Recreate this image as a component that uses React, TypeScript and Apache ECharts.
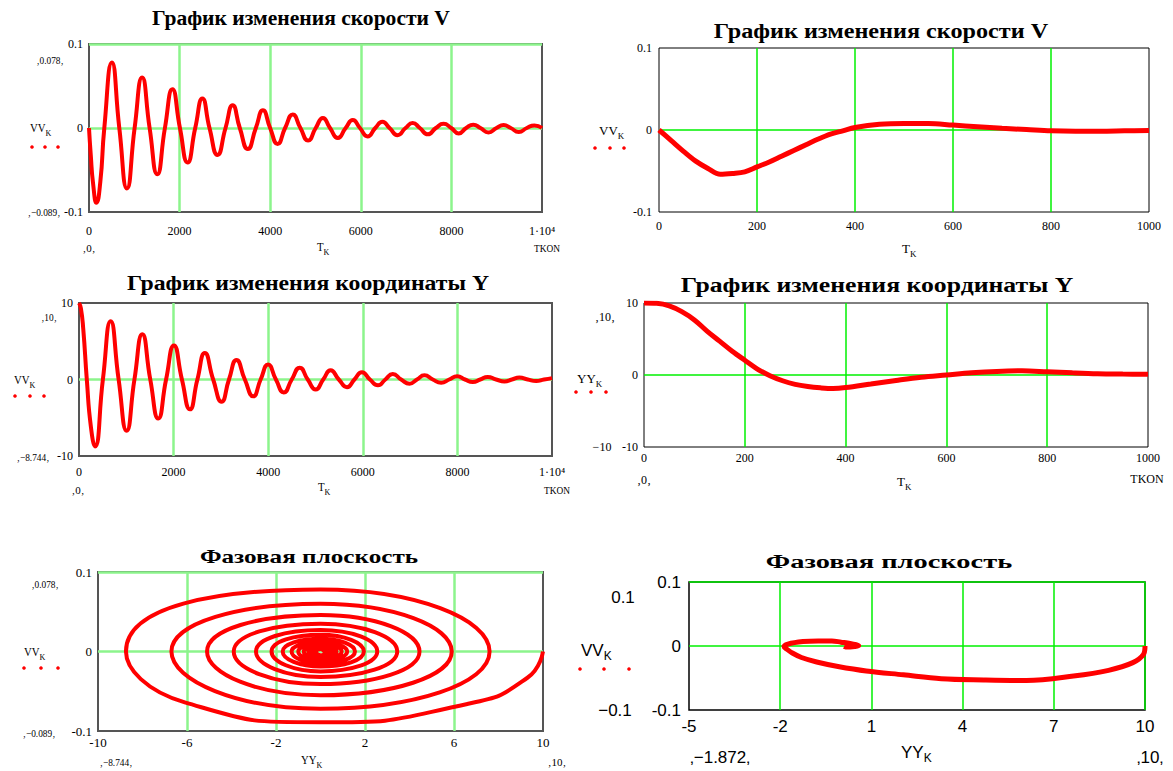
import React, { useEffect, useRef } from "react";
import * as echarts from "echarts";

// ---- Fast oscillating model (left panels): values read near quarter-period points ----
const T_FAST = [0,40,90,165,250,338,505,669,838,1007,1172,1338,1507,1676,1841,2007,2176,2345,2503,2660,2837,3014,3171,3329,3506,3683,3840,3998,4163,4329,4498,4667,4836,5005,5163,5320,5493,5666,5823,5981,6150,6320,6477,6634,6811,6988,7145,7303,7480,7657,7826,7996,8161,8326,8483,8641,8818,8995,9152,9310,9487,9665,9832,10000];
const YY_FAST = [10,9.3,6.6,0,-6.1,-8.744,0,7.6,0,-6.7,0,5.9,0,-5.1,0,4.45,0,-3.9,0,3.45,0,-2.9,0,2.55,0,-2.2,0,1.95,0,-1.7,0,1.55,0,-1.3,0,1.2,0,-1.0,0,0.95,0,-0.75,0,0.72,0,-0.55,0,0.55,0,-0.42,0,0.42,0,-0.33,0,0.32,0,-0.26,0,0.25,0,-0.2,0,0.18];
const VV_FAST = [0,-0.033,-0.066,-0.089,-0.064,0,0.078,0,-0.072,0,0.060,0,-0.055,0,0.046,0,-0.041,0,0.035,0,-0.032,0,0.027,0,-0.025,0,0.021,0,-0.019,0,0.016,0,-0.015,0,0.012,0,-0.012,0,0.0095,0,-0.010,0,0.0075,0,-0.0085,0,0.006,0,-0.0075,0,0.005,0,-0.0065,0,0.004,0,-0.0055,0,0.0035,0,-0.0048,0,0.003,0];

// ---- Slow (heavily damped) model (right panels) ----
const T_SLOW = [0,25,50,75,100,125,150,175,200,225,250,275,300,325,350,375,400,450,500,550,600,650,700,750,800,850,900,950,1000];
const YY_SLOW = [10,9.95,9.6,8.8,7.65,6.1,4.7,3.3,2.05,0.83,-0.1,-0.8,-1.3,-1.6,-1.78,-1.872,-1.75,-1.25,-0.75,-0.3,0.0,0.3,0.5,0.58,0.45,0.3,0.18,0.13,0.1];
const VV_SLOW = [0,-0.013,-0.026,-0.038,-0.047,-0.054,-0.053,-0.051,-0.045,-0.039,-0.032,-0.025,-0.018,-0.011,-0.005,-0.001,0.003,0.007,0.008,0.008,0.006,0.004,0.002,0.0005,-0.001,-0.0015,-0.0015,-0.001,-0.0005];

// ---- Axis ranges / ticks [min, max, interval] ----
const T_FAST_RANGE = [0, 10000, 2000];
const T_SLOW_RANGE = [0, 1000, 200];
const V_RANGE = [-0.1, 0.1, 0.1];
const Y_RANGE = [-10, 10, 10];
const YPH_LEFT_RANGE = [-10, 10, 4];
const YPH_RIGHT_RANGE = [-5, 10, 3];

const TITLE_V = "График изменения скорости V";
const TITLE_Y = "График изменения координаты Y";
const TITLE_PHASE = "Фазовая плоскость";

const SERIF = "Liberation Serif, Times New Roman, serif";
const SANS = "Liberation Sans, Arial, sans-serif";
const RED = "#ff0000";
const GREEN = "#00f000";
const GREEN_L = "#8cf48c";

const fmtX = (v: number) => (v === 10000 ? "1·10⁴" : String(v));
const fmtV = (v: number) => (Math.abs(v) < 1e-9 ? "0" : String(+v.toFixed(3)));

function txt(t: string, x: number, y: number, size: number, o: any = {}) {
  const align = o.align || "center";
  return {
    type: "text", x, y, scaleX: o.sx ?? 1, silent: true,
    style: {
      text: t, fontSize: size, fontFamily: o.family || SERIF, fontWeight: o.weight || "normal",
      fill: o.fill || "#000", align, verticalAlign: "middle", textAlign: align, textVerticalAlign: "middle",
    },
  };
}
function sub(main: string, s: string, x: number, y: number, size: number, family = SERIF, sx = 1) {
  const lh = size + 7;
  return {
    type: "text", x, y, scaleX: sx, silent: true,
    style: {
      text: `{m|${main}}{s|${s}}`, align: "left", verticalAlign: "middle", textAlign: "left", textVerticalAlign: "middle",
      rich: {
        m: { fontSize: size, fontFamily: family, fill: "#000", color: "#000", verticalAlign: "middle", lineHeight: lh },
        s: { fontSize: Math.round(size * 0.72), fontFamily: family, fill: "#000", color: "#000", verticalAlign: "bottom", lineHeight: lh },
      },
    },
  };
}
function dots(xs: number[], y: number) {
  return xs.map((x) => ({ type: "circle", silent: true, shape: { cx: x, cy: y, r: 1.8 }, style: { fill: RED } }));
}

const GRIDS = [
  { left: 89, top: 44, width: 453, height: 168, bc: "#555", bw: 2 },   // top-left
  { left: 659, top: 48, width: 490, height: 164, bc: "#000", bw: 1 },  // top-right
  { left: 79, top: 303, width: 473, height: 153, bc: "#555", bw: 2 },  // mid-left
  { left: 644, top: 303, width: 504, height: 144, bc: "#000", bw: 1 }, // mid-right
  { left: 98, top: 572, width: 445, height: 159, bc: "#555", bw: 2 },  // bottom-left
  { left: 689, top: 582, width: 456, height: 128, bc: "#000", bw: 1.5 }, // bottom-right
];

function axis(gridIndex: number, r: number[], o: any) {
  return {
    type: "value", gridIndex, min: r[0], max: r[1], interval: r[2],
    axisLine: { show: false }, axisTick: { show: false },
    splitLine: {
      show: true, showMinLine: false, showMaxLine: !!o.showMax,
      lineStyle: { color: o.left ? GREEN_L : GREEN, width: o.left ? 2.5 : 1.5 },
    },
    axisLabel: {
      show: true, margin: o.margin, fontSize: o.size, fontFamily: o.family || SERIF, color: "#000",
      fontWeight: o.bold ? "bold" : "normal",
      formatter: o.fmt, showMinLabel: true, showMaxLabel: true, hideOverlap: false,
    },
  };
}

function pairs(a: number[], b: number[]) {
  return a.map((v, i) => [v, b[i]]);
}

export default function App() {
  const ref = useRef<HTMLDivElement>(null);
  useEffect(() => {
    if (!ref.current) return;
    const chart = echarts.init(ref.current, undefined, { renderer: "svg" });
    const line = (xi: number, data: number[][], w: number, smooth: number) => ({
      type: "line", xAxisIndex: xi, yAxisIndex: xi, data, smooth, showSymbol: false, symbol: "none",
      lineStyle: { color: RED, width: w }, itemStyle: { color: RED }, clip: true,
    });
    const option: any = {
      animation: false,
      backgroundColor: "#ffffff",
      grid: GRIDS.map((g) => ({
        left: g.left, top: g.top, width: g.width, height: g.height,
        show: true, borderColor: g.bc, borderWidth: g.bw, backgroundColor: "rgba(0,0,0,0)",
        containLabel: false, outerBoundsMode: "none",
      })),
      xAxis: [
        axis(0, T_FAST_RANGE, { margin: 13, size: 12, fmt: fmtX, left: true }),
        axis(1, T_SLOW_RANGE, { margin: 8, size: 12, fmt: fmtX }),
        axis(2, T_FAST_RANGE, { margin: 10, size: 12, fmt: fmtX, left: true }),
        axis(3, T_SLOW_RANGE, { margin: 5, size: 12, fmt: fmtX }),
        axis(4, YPH_LEFT_RANGE, { margin: 5, size: 13, fmt: fmtV, left: true }),
        axis(5, YPH_RIGHT_RANGE, { margin: 8, size: 17, fmt: fmtV, family: SANS, showMax: true }),
      ],
      yAxis: [
        axis(0, V_RANGE, { margin: 6, size: 12, fmt: fmtV, left: true, showMax: true }),
        axis(1, V_RANGE, { margin: 7, size: 12, fmt: fmtV }),
        axis(2, Y_RANGE, { margin: 6, size: 12, fmt: fmtV, left: true }),
        axis(3, Y_RANGE, { margin: 6, size: 12, fmt: fmtV }),
        axis(4, V_RANGE, { margin: 6, size: 13, fmt: fmtV, left: true, showMax: true }),
        axis(5, V_RANGE, { margin: 8, size: 17, fmt: fmtV, family: SANS, showMax: true }),
      ],
      series: [
        line(0, pairs(T_FAST, VV_FAST), 4, 0.55),
        line(1, pairs(T_SLOW, VV_SLOW), 5, 0.35),
        line(2, pairs(T_FAST, YY_FAST), 4, 0.55),
        line(3, pairs(T_SLOW, YY_SLOW), 5, 0.35),
        line(4, pairs(YY_FAST, VV_FAST), 4, 0.55),
        line(5, pairs(YY_SLOW, VV_SLOW), 5, 0.35),
      ],
      graphic: [
        // ---- top-left ----
        txt(TITLE_V, 301, 18, 22, { weight: "bold", sx: 0.98 }),
        txt("‚0.078‚", 50, 60, 11, { sx: 0.85 }),
        sub("VV", "K", 30, 128, 12, SERIF, 0.9),
        ...dots([32, 45, 58], 147),
        txt("‚−0.089‚", 44, 212, 11, { sx: 0.85 }),
        txt("‚0‚", 89, 248, 11),
        sub("T", "K", 317, 247, 12, SERIF, 0.9),
        txt("TKON", 547, 248, 11, { sx: 0.85 }),
        // ---- top-right ----
        txt(TITLE_V, 881, 30, 22, { weight: "bold", sx: 1.1 }),
        sub("VV", "K", 599, 130, 13),
        ...dots([595, 610, 624], 148),
        sub("T", "K", 902, 248, 13),
        // ---- mid-left ----
        txt(TITLE_Y, 308, 283, 22, { weight: "bold", sx: 1.08 }),
        txt("‚10‚", 49, 317, 11, { sx: 0.85 }),
        sub("VV", "K", 14, 380, 12, SERIF, 0.9),
        ...dots([15, 30, 44], 396),
        txt("‚−8.744‚", 33, 457, 11, { sx: 0.85 }),
        txt("‚0‚", 78, 490, 11),
        sub("T", "K", 318, 487, 12, SERIF, 0.9),
        txt("TKON", 557, 490, 11, { sx: 0.85 }),
        // ---- mid-right ----
        txt(TITLE_Y, 877, 285, 22, { weight: "bold", sx: 1.17 }),
        txt("‚10‚", 605, 317, 12),
        sub("YY", "K", 577, 378, 13),
        ...dots([576, 591, 606], 392),
        txt("−10", 602, 447, 12),
        txt("‚0‚", 644, 480, 12),
        sub("T", "K", 897, 481, 13),
        txt("TKON", 1147, 479, 12),
        // ---- bottom-left ----
        txt(TITLE_PHASE, 309, 557, 18, { weight: "bold", sx: 1.4 }),
        txt("‚0.078‚", 45, 584, 11, { sx: 0.85 }),
        sub("VV", "K", 24, 652, 12, SERIF, 0.9),
        ...dots([24, 41, 58], 668),
        txt("‚−0.089‚", 39, 733, 11, { sx: 0.85 }),
        txt("‚−8.744‚", 116, 762, 11, { sx: 0.85 }),
        sub("YY", "K", 301, 760, 12, SERIF, 0.9),
        txt("‚10‚", 557, 762, 11),
        // ---- bottom-right ----
        txt(TITLE_PHASE, 889, 562, 18, { weight: "bold", sx: 1.58 }),
        txt("0.1", 623, 597, 17, { family: SANS }),
        sub("VV", "K", 581, 650, 17, SANS),
        ...dots([580, 604, 629], 669),
        txt("−0.1", 615, 710, 17, { family: SANS }),
        txt("‚−1.872‚", 720, 757, 17, { family: SANS }),
        sub("YY", "K", 901, 752, 17, SANS),
        txt("‚10‚", 1150, 757, 17, { family: SANS }),
      ],
    };
    chart.setOption(option);
    return () => chart.dispose();
  }, []);
  return <div ref={ref} style={{ position: "absolute", left: 0, top: 0, width: 1173, height: 771, background: "#fff" }} />;
}
